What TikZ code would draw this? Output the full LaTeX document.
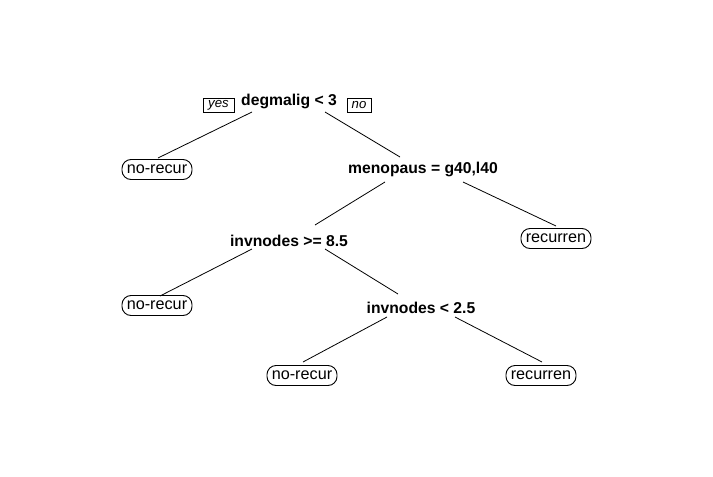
\documentclass[tikz,border=0pt]{standalone}
\usepackage{fontspec}
\setmainfont{Liberation Sans}
\usetikzlibrary{calc}
\begin{document}
\begin{tikzpicture}[x=1pt,y=-1pt,
  split/.style={font=\fontsize{15.7}{15.7}\selectfont\bfseries, inner sep=0pt},
  leaf/.style={draw, line width=0.9pt, rounded corners=9pt, minimum width=70pt, minimum height=20pt, inner sep=0pt, font=\fontsize{16.2}{16.2}\selectfont},
  lab/.style={draw, line width=0.8pt, minimum width=#1, minimum height=14pt, inner sep=0pt, font=\fontsize{13.2}{13.2}\selectfont\itshape},
  branch/.style={line width=0.8pt}]
\useasboundingbox (0,0) rectangle (713,477);
\node[split] (d) at (289,101) {degmalig < 3};
\node[lab=31pt] (yes) at (218.5,105) {yes};
\node[lab=24pt] (no) at (359,105) {no};
\node[leaf] (l1) at (157,169.5) {no-recur};
\node[split] (m) at (423,169.5) {menopaus = g40,l40};
\node[leaf] (l2) at (556,238.5) {recurren};
\node[split] (i1) at (289,240.5) {invnodes >= 8.5};
\node[leaf] (l3) at (157,305.5) {no-recur};
\node[split] (i2) at (421,307.5) {invnodes < 2.5};
\node[leaf] (l4) at (302,375.5) {no-recur};
\node[leaf] (l5) at (541,375.5) {recurren};
\draw[branch] ($(d)+(-37,11)$) -- ($(l1)+(1,-11.5)$);
\draw[branch] ($(d)+(36,11)$) -- ($(m)+(-23,-12.5)$);
\draw[branch] ($(m)+(-38,12.5)$) -- ($(i1)+(26,-15.5)$);
\draw[branch] ($(m)+(40,12.5)$) -- ($(l2)+(0,-12.5)$);
\draw[branch] ($(i1)+(-37,8.5)$) -- ($(l3)+(3,-9.5)$);
\draw[branch] ($(i1)+(36,8.5)$) -- ($(i2)+(-23,-13.5)$);
\draw[branch] ($(i2)+(-34,9.5)$) -- ($(l4)+(1,-13.5)$);
\draw[branch] ($(i2)+(34,9.5)$) -- ($(l5)+(1,-13.5)$);
\end{tikzpicture}
\end{document}
